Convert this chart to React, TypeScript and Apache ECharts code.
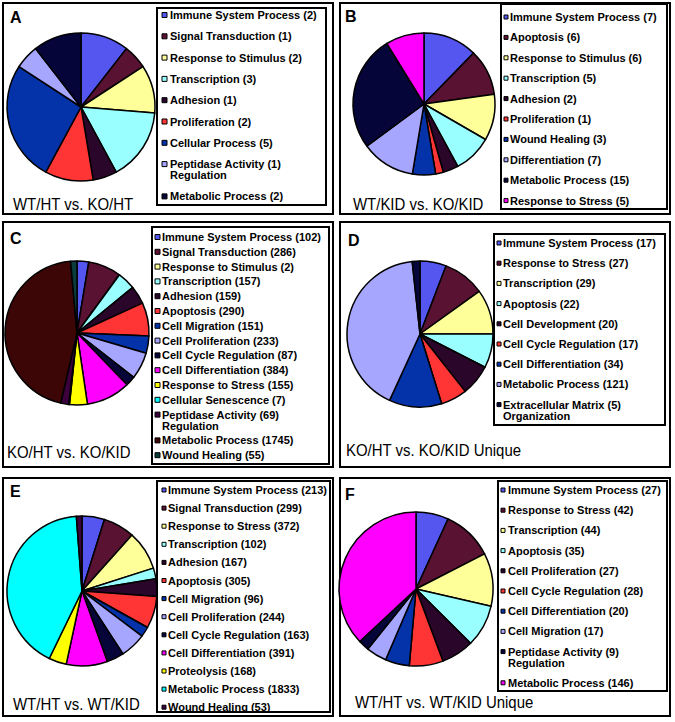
import React, { useEffect, useRef } from "react";
import * as echarts from "echarts";

// ---------- data ----------
const catsA = ["Immune System Process", "Signal Transduction", "Response to Stimulus", "Transcription", "Adhesion", "Proliferation", "Cellular Process", "Peptidase Activity\nRegulation", "Metabolic Process"];
const valsA = [2, 1, 2, 3, 1, 2, 5, 1, 2];

const catsB = ["Immune System Process", "Apoptosis", "Response to Stimulus", "Transcription", "Adhesion", "Proliferation", "Wound Healing", "Differentiation", "Metabolic Process", "Response to Stress"];
const valsB = [7, 6, 6, 5, 2, 1, 3, 7, 15, 5];

const catsC = ["Immune System Process", "Signal Transduction", "Response to Stimulus", "Transcription", "Adhesion", "Apoptosis", "Cell Migration", "Cell Proliferation", "Cell Cycle Regulation", "Cell Differentiation", "Response to Stress", "Cellular Senescence", "Peptidase Activity\nRegulation", "Metabolic Process", "Wound Healing"];
const valsC = [102, 286, 2, 157, 159, 290, 151, 233, 87, 384, 155, 7, 69, 1745, 55];

const catsD = ["Immune System Process", "Response to Stress", "Transcription", "Apoptosis", "Cell Development", "Cell Cycle Regulation", "Cell Differentiation", "Metabolic Process", "Extracellular Matrix\nOrganization"];
const valsD = [17, 27, 29, 22, 20, 17, 34, 121, 5];

const catsE = ["Immune System Process", "Signal Transduction", "Response to Stress", "Transcription", "Adhesion", "Apoptosis", "Cell Migration", "Cell Proliferation", "Cell Cycle Regulation", "Cell Differentiation", "Proteolysis", "Metabolic Process", "Wound Healing"];
const valsE = [213, 299, 372, 102, 167, 305, 96, 244, 163, 391, 168, 1833, 53];

const catsF = ["Immune System Process", "Response to Stress", "Transcription", "Apoptosis", "Cell Proliferation", "Cell Cycle Regulation", "Cell Differentiation", "Cell Migration", "Peptidase Activity\nRegulation", "Metabolic Process"];
const valsF = [27, 42, 44, 35, 27, 28, 20, 17, 9, 146];

const letters = ["A", "B", "C", "D", "E", "F"];
const titles = ["WT/HT vs. KO/HT", "WT/KID vs. KO/KID", "KO/HT vs. KO/KID", "KO/HT vs. KO/KID Unique", "WT/HT vs. WT/KID", "WT/HT vs. WT/KID Unique"];

// ---------- styles ----------
const palette = ["#5555f0", "#5a1232", "#ffff99", "#99ffff", "#2a062a", "#ff3535", "#0432a8", "#a6a6ff", "#05053a", "#ff00ff", "#ffff00", "#00ffff", "#3c003c", "#3c0606", "#0a3c3c"];
const FONT = "'Liberation Sans', Arial, sans-serif";
const LEG_FONT = 11;
const LH = 11;

// ---------- layout ----------
const layouts = [
  { box: [3, 3, 333, 214], leg: [157, 8, 326, 205], cx: 81, cy: 107, r: 74, letter: [10, 17], title: [13, 204], legY: 15, step: 21.3, mk: 5, tx: 170, mx: 162 },
  { box: [340, 3, 670, 214], leg: [501, 4, 667, 209], cx: 424, cy: 104, r: 71, letter: [345, 16], title: [353, 204], legY: 17, step: 20.4, mk: 4, tx: 510, mx: 504 },
  { box: [3, 222, 333, 467], leg: [152, 227, 329, 464], cx: 77, cy: 333, r: 72, letter: [10, 238], title: [7, 452], legY: 237, step: 14.8, mk: 5, tx: 162, mx: 155 },
  { box: [340, 222, 670, 467], leg: [494, 234, 665, 425], cx: 420, cy: 334, r: 73, letter: [348, 240], title: [346, 450], legY: 243, step: 20.2, mk: 4, tx: 503, mx: 497 },
  { box: [3, 478, 333, 716], leg: [157, 481, 330, 712], cx: 82, cy: 591, r: 75, letter: [10, 491], title: [13, 704], legY: 490, step: 18.1, mk: 4, tx: 168, mx: 162 },
  { box: [340, 478, 670, 716], leg: [498, 481, 667, 691], cx: 416, cy: 589, r: 77, letter: [345, 494], title: [355, 702], legY: 490, step: 20.2, mk: 4, tx: 508, mx: 501 },
];

const allCats = [catsA, catsB, catsC, catsD, catsE, catsF];
const allVals = [valsA, valsB, valsC, valsD, valsE, valsF];

function buildOption() {
  const series: any[] = [];
  const graphic: any[] = [];
  layouts.forEach((L, p) => {
    const cats = allCats[p];
    const vals = allVals[p];
    series.push({
      type: "pie",
      center: [L.cx, L.cy],
      radius: L.r,
      startAngle: 90,
      clockwise: true,
      silent: true,
      label: { show: false },
      labelLine: { show: false },
      emphasis: { disabled: true },
      itemStyle: { borderColor: "#000", borderWidth: 1.5 },
      data: cats.map((c, i) => ({ name: letters[p] + ": " + c, value: vals[i], itemStyle: { color: palette[i] } })),
    });
    graphic.push({
      type: "rect", z: 1,
      shape: { x: L.box[0], y: L.box[1], width: L.box[2] - L.box[0], height: L.box[3] - L.box[1] },
      style: { fill: "none", stroke: "#000", lineWidth: 2 },
    });
    graphic.push({
      type: "rect", z: 2,
      shape: { x: L.leg[0], y: L.leg[1], width: L.leg[2] - L.leg[0], height: L.leg[3] - L.leg[1] },
      style: { fill: "#fff", stroke: "#000", lineWidth: 2 },
    });
    graphic.push({
      type: "text", z: 3, x: L.letter[0], y: L.letter[1],
      style: { text: letters[p], font: `bold 16px ${FONT}`, fill: "#000", align: "left", verticalAlign: "middle" },
    });
    graphic.push({
      type: "text", z: 3, x: L.title[0], y: L.title[1], scaleX: 0.88,
      style: { text: titles[p], font: `17px ${FONT}`, fill: "#000", align: "left", verticalAlign: "middle" },
    });
    let y = L.legY;
    cats.forEach((c, i) => {
      const lines = c.split("\n");
      graphic.push({
        type: "rect", z: 3,
        shape: { x: L.mx, y: y - L.mk / 2, width: L.mk, height: L.mk },
        style: { fill: palette[i], stroke: "#000", lineWidth: 1 },
      });
      const text = [`${lines[0]} (${vals[i]})`, ...lines.slice(1)].join("\n");
      graphic.push({
        type: "text", z: 3, x: L.tx, y: y - LH / 2,
        style: {
          text, font: `bold ${LEG_FONT}px ${FONT}`, fill: "#000",
          align: "left", verticalAlign: "top", lineHeight: LH,
        },
      });
      y += L.step + (lines.length - 1) * LH;
    });
  });
  return {
    animation: false,
    backgroundColor: "#fff",
    series,
    graphic,
  };
}

export default function App() {
  const ref = useRef<HTMLDivElement>(null);
  useEffect(() => {
    if (!ref.current) return;
    const chart = echarts.init(ref.current, null, { renderer: "svg" });
    chart.setOption(buildOption() as any);
    return () => chart.dispose();
  }, []);
  return (
    <div
      ref={ref}
      style={{ position: "fixed", left: 0, top: 0, width: 675, height: 722, background: "#fff" }}
    />
  );
}
